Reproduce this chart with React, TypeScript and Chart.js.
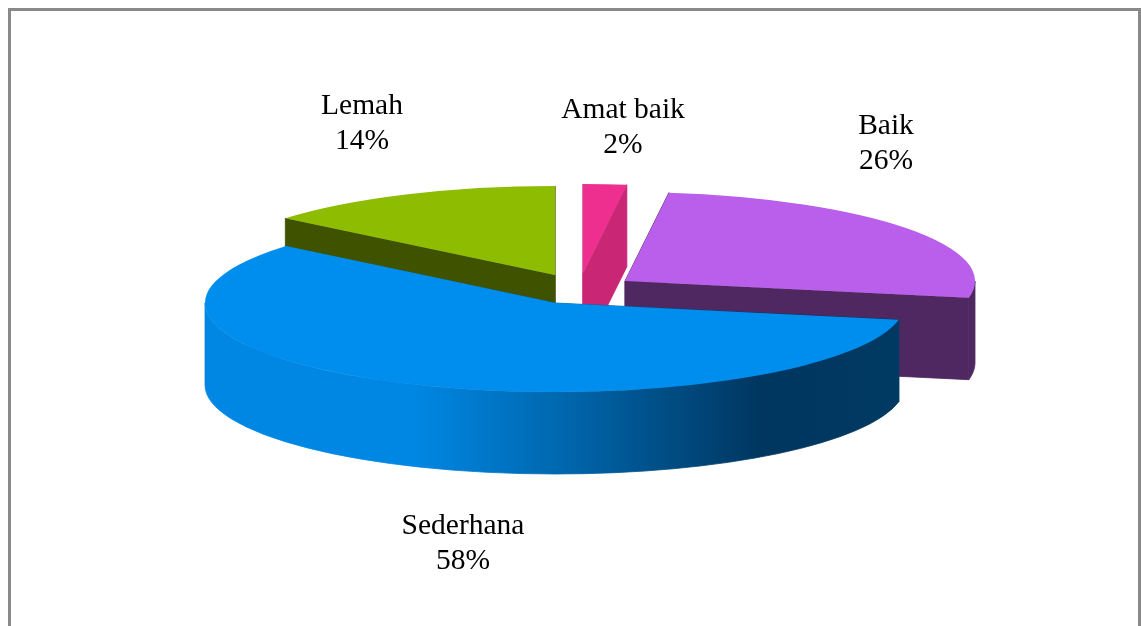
import React, { useEffect, useRef } from "react";
import { Chart, registerables } from "chart.js";

Chart.register(...registerables);

const categories = ["Amat baik", "Baik", "Sederhana", "Lemah"];
const percentages = [2, 26, 58, 14];

const topColors = ["#EE2F8F", "#B95FEB", "#008EEE", "#8DBC00"];
const wallColors = ["#C92776", "#4F2862", "#00619F", "#3F5200"];

// Styling and projection of the tilted pie
const PIE = {
  rx: 350,
  ry: 89,
  depth: 82,
  centres: [
    [583, 273],
    [625, 281],
    [555, 303],
    [555, 275],
  ],
  drawOrder: [3, 0, 1, 2],
  gradientSlice: 2,
};
const LABEL_STYLE = {
  font: '29.5px "Liberation Serif"',
  lineGap: 35,
  anchors: [
    [623, 110],
    [886, 126],
    [463, 526],
    [362, 106],
  ],
};

const pie3d = {
  id: "pie3d",
  beforeDraw(chart: any) {
    const { ctx, width, height } = chart;
    ctx.save();
    ctx.fillStyle = "#fff";
    ctx.fillRect(0, 0, width, height);
    ctx.strokeStyle = "#898989";
    ctx.lineWidth = 3;
    ctx.strokeRect(9.5, 9.5, 1130, height + 20);
    ctx.restore();
  },
  beforeDatasetDraw(chart: any, args: any) {
    const ctx: CanvasRenderingContext2D = chart.ctx;
    const arcs = chart.getDatasetMeta(args.index).data;
    for (const i of PIE.drawOrder) {
      const arc = arcs[i];
      const [cx, cy] = PIE.centres[i];
      const R = arc.outerRadius;
      const px = (a: number) => cx + PIE.rx * Math.cos(a);
      const py = (a: number) => cy + PIE.ry * Math.sin(a);
      const a1 = arc.startAngle;
      const a2 = arc.endAngle;

      let wall: any = wallColors[i];
      if (i === PIE.gradientSlice) {
        const g = ctx.createLinearGradient(205, 0, 900, 0);
        g.addColorStop(0, "#0087E4");
        g.addColorStop(0.3, "#0087E4");
        g.addColorStop(0.52, "#0066AC");
        g.addColorStop(0.8, "#00365F");
        g.addColorStop(1, "#003A63");
        wall = g;
      }
      ctx.fillStyle = wall;
      ctx.strokeStyle = wall;
      ctx.lineWidth = 0.8;
      ctx.lineJoin = "round";

      // radial walls
      for (const a of [a1, a2]) {
        ctx.beginPath();
        ctx.moveTo(cx, cy);
        ctx.lineTo(px(a), py(a));
        ctx.lineTo(px(a), py(a) + PIE.depth);
        ctx.lineTo(cx, cy + PIE.depth);
        ctx.closePath();
        ctx.fill();
        ctx.stroke();
      }

      // outer wall, front half of the rim only
      const tau = Math.PI * 2;
      for (const k of [-1, 0, 1]) {
        const from = Math.max(a1, k * tau);
        const to = Math.min(a2, k * tau + Math.PI);
        if (to <= from) continue;
        ctx.beginPath();
        ctx.moveTo(px(from), py(from));
        ctx.ellipse(cx, cy, PIE.rx, PIE.ry, 0, from, to);
        ctx.lineTo(px(to), py(to) + PIE.depth);
        ctx.ellipse(cx, cy + PIE.depth, PIE.rx, PIE.ry, 0, to, from, true);
        ctx.closePath();
        ctx.fill();
        ctx.stroke();
      }

      // top face, the library's own arc element under a squash
      ctx.save();
      ctx.translate(cx, cy);
      ctx.scale(PIE.rx / R, PIE.ry / R);
      ctx.translate(-arc.x, -arc.y);
      arc.draw(ctx);
      ctx.restore();
    }
    return false;
  },
  afterDatasetsDraw(chart: any) {
    const { ctx } = chart;
    ctx.save();
    ctx.fillStyle = "#000";
    ctx.font = LABEL_STYLE.font;
    ctx.textAlign = "center";
    ctx.textBaseline = "middle";
    categories.forEach((name, i) => {
      const [x, y] = LABEL_STYLE.anchors[i];
      ctx.fillText(name, x, y);
      ctx.fillText(`${percentages[i]}%`, x, y + LABEL_STYLE.lineGap);
    });
    ctx.restore();
  },
};

export default function App() {
  const ref = useRef<HTMLCanvasElement>(null);
  useEffect(() => {
    const chart = new Chart(ref.current as HTMLCanvasElement, {
      type: "pie",
      data: {
        labels: categories,
        datasets: [
          {
            data: percentages,
            backgroundColor: topColors,
            borderWidth: 0,
          },
        ],
      },
      options: {
        responsive: false,
        animation: false,
        layout: { padding: 0 },
        plugins: { legend: { display: false }, tooltip: { enabled: false } },
      },
      plugins: [pie3d],
    } as any);
    return () => chart.destroy();
  }, []);
  return (
    <canvas
      ref={ref}
      width={1141}
      height={626}
      style={{ position: "fixed", left: 0, top: 0, display: "block", filter: "blur(0.4px)" }}
    />
  );
}
